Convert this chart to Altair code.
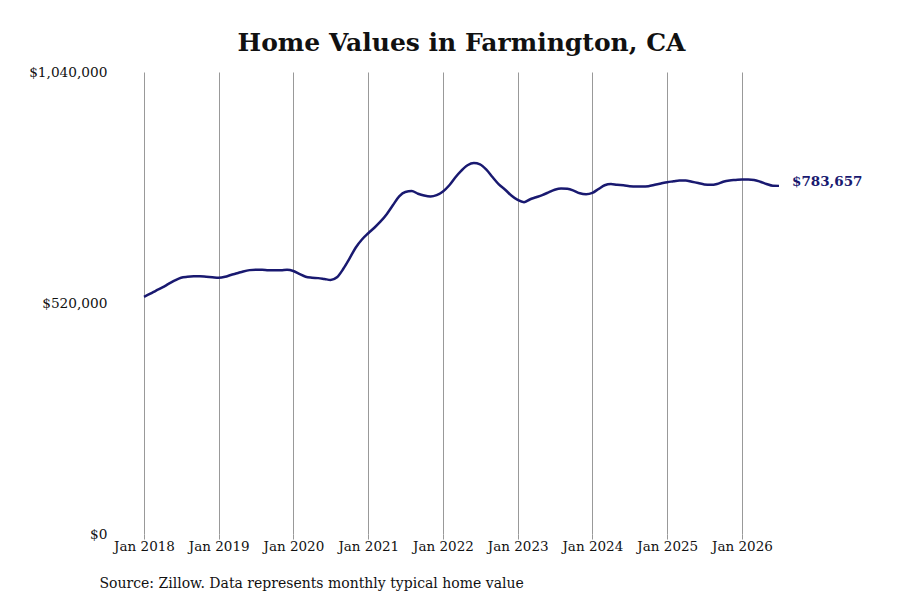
"""Home values line chart (Altair)."""

import altair as alt
import pandas as pd

# monthly typical home value, Jan 2018 .. Jul 2026 (thousands of dollars)
start_month = "2018-01-01"
values_k = [
    534, 541, 548, 555, 563, 571, 577, 579, 580, 580, 579, 578,
    577, 579, 583, 587, 591, 594, 595, 595, 594, 594, 594, 595,
    592, 585, 579, 577, 576, 574, 572, 578, 597, 620, 645, 663,
    677, 690, 703, 720, 740, 760, 770, 772, 766, 762, 760, 763,
    771, 785, 802, 818, 830, 835, 832, 820, 803, 787, 775, 762,
    752, 747, 753, 758, 763, 769, 775, 778, 777, 773, 767, 765,
    768, 777, 785, 788, 786, 785, 783, 782, 782, 783, 786, 789,
    792, 794, 796, 796, 793, 790, 787, 786, 788, 793, 796, 797,
    798, 798, 797, 793, 788, 784, 783.657,
]
y_ticks = [0, 520000, 1040000]
tick_years = list(range(2018, 2027))

df = pd.DataFrame({
    "date": pd.date_range(start_month, periods=len(values_k), freq="MS"),
    "value": [v * 1000 for v in values_k],
})
last = df.tail(1)

serif = "DejaVu Serif"
navy = "#191970"

x = alt.X(
    "date:T",
    scale=alt.Scale(domain=["2018-01-01", "2026-07-01"]),
    axis=alt.Axis(
        values=[f"{y}-01-01" for y in tick_years],
        format="Jan %Y",
        grid=True,
        gridColor="#999999",
        gridWidth=1,
        domain=False,
        ticks=True,
        tickColor="#999999",
        tickSize=5,
        labelFont=serif,
        labelFontSize=13.5,
        labelColor="#111111",
        labelAlign="center",
        labelOverlap=False,
        labelFlush=False,
        labelPadding=0,
        title="Source: Zillow. Data represents monthly typical home value",
        titleFont=serif,
        titleFontSize=14,
        titleFontWeight="normal",
        titleColor="#111111",
        titleAnchor="start",
        titleAlign="left",
        titleX=-45,
        titleY=53,
        titleBaseline="alphabetic",
    ),
)
y = alt.Y(
    "value:Q",
    scale=alt.Scale(domain=[0, 1040000], nice=False),
    axis=alt.Axis(
        values=y_ticks,
        format="$,.0f",
        grid=False,
        domain=False,
        ticks=False,
        labelFont=serif,
        labelFontSize=13.7,
        labelColor="#111111",
        labelPadding=37,
        title=None,
    ),
)

line = alt.Chart(df).mark_line(color=navy, strokeWidth=2.5, interpolate="monotone").encode(x=x, y=y)

end_label = alt.Chart(last).mark_text(
    align="left", baseline="middle", dx=13, dy=-4, font=serif, fontSize=13.5,
    fontWeight="bold", color=navy,
).encode(
    x="date:T",
    y="value:Q",
    text=alt.Text("value:Q", format="$,.0f"),
)

chart = alt.layer(line, end_label).properties(
    width=635,
    height=462,
    autosize=alt.AutoSizeParams(type="none"),
    padding={"left": 136, "top": 64, "right": 113, "bottom": 58},
    title=alt.TitleParams(
        "Home Values in Farmington, CA",
        font=serif,
        fontSize=25,
        fontWeight="bold",
        color="#111111",
        anchor="middle",
        offset=9,
    ),
).configure_view(stroke=None)

chart.save("out.html", embed_options={"renderer": "svg", "actions": False})
